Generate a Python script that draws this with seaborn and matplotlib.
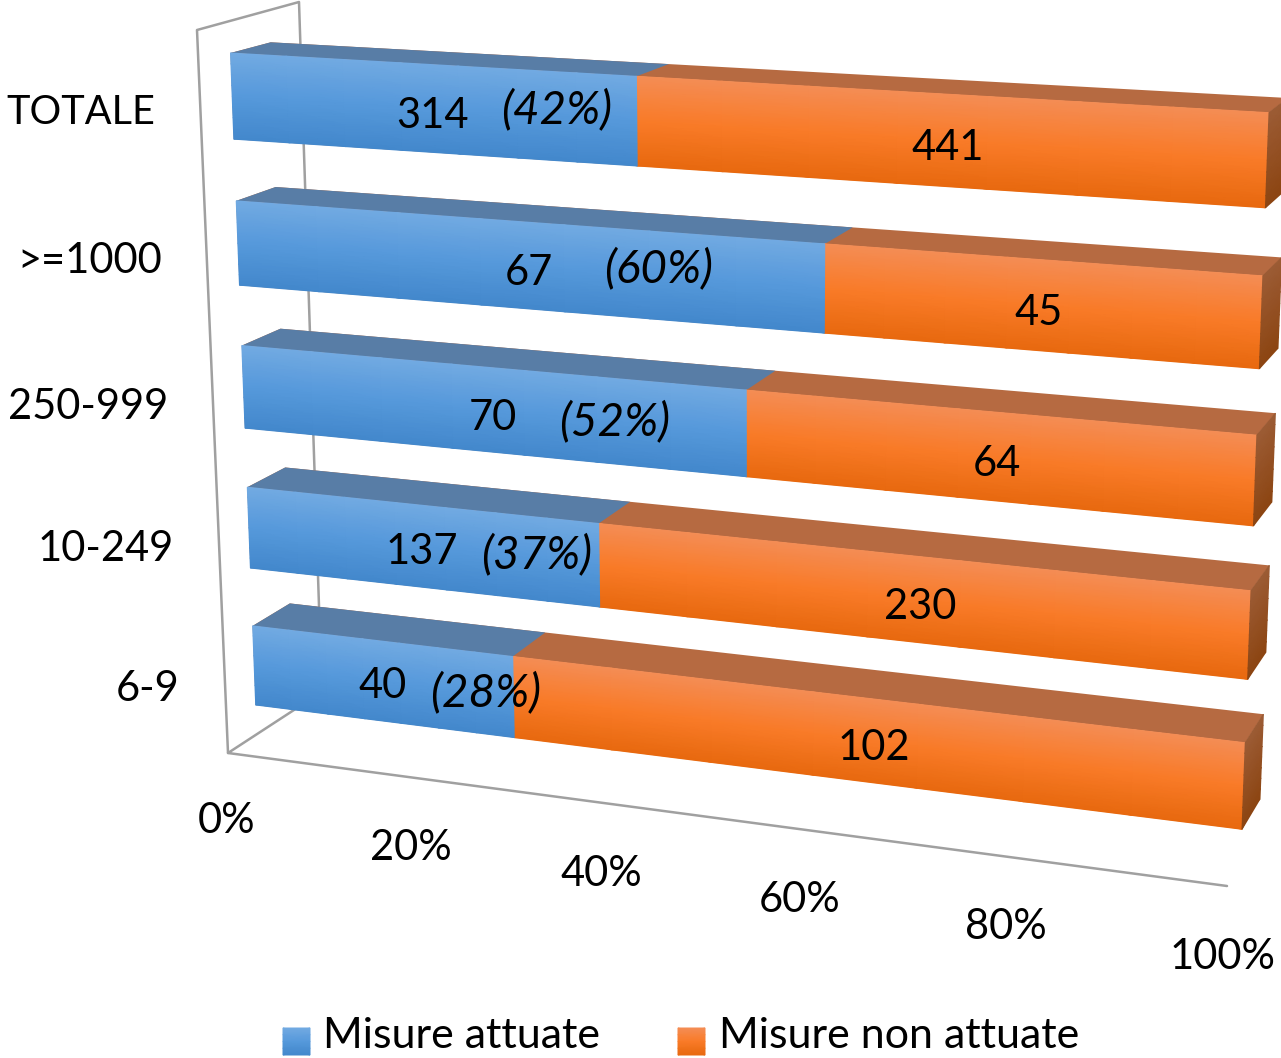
import numpy as np
import matplotlib
matplotlib.use('Agg')
import matplotlib.pyplot as plt
from matplotlib.colors import LinearSegmentedColormap
from matplotlib.transforms import Affine2D, Transform
import seaborn as sns

categories = ['TOTALE', '>=1000', '250-999', '10-249', '6-9']
attuate = [314, 67, 70, 137, 40]
non_attuate = [441, 45, 64, 230, 102]
percent_labels = ['(42%)', '(60%)', '(52%)', '(37%)', '(28%)']
x_ticks = ['0%', '20%', '40%', '60%', '80%', '100%']
legend_names = ['Misure attuate', 'Misure non attuate']

BAR_W = 0.58
H = BAR_W / 2
W, HT = 1281, 1058


def fit_homography(src, dst):
    a, b = [], []
    for (x, y), (u, v) in zip(src, dst):
        a.append([x, y, 1, 0, 0, 0, -u * x, -u * y])
        a.append([0, 0, 0, x, y, 1, -v * x, -v * y])
        b += [u, v]
    return np.append(np.linalg.solve(np.array(a, float), np.array(b, float)), 1).reshape(3, 3)


def project(m, xy):
    xy = np.asarray(xy, float)
    p = np.column_stack([xy, np.ones(len(xy))]) @ m.T
    return p[:, :2] / p[:, 2:]


class Plane(Transform):
    input_dims = output_dims = 2

    def __init__(self, m):
        super().__init__()
        self.m = m

    def transform_non_affine(self, values):
        return project(self.m, values)


class TopFace(Transform):
    # y inside a bar's band is used as depth: band top = back edge, band bottom = front edge
    input_dims = output_dims = 2

    def __init__(self, front, back):
        super().__init__()
        self.front, self.back = front, back

    def transform_non_affine(self, values):
        x, y = values[:, 0], values[:, 1]
        row = np.round(y)
        s = ((y - (row - H)) / (2 * H))[:, None]
        edge = np.column_stack([x, row - H])
        return project(self.back, edge) * (1 - s) + project(self.front, edge) * s


corners = [(0, -H), (100, -H), (0, 4 + H), (100, 4 + H)]
front_m = fit_homography(corners, [(230.5, 53), (1269, 112.7), (255.7, 705), (1242, 829.3)])
back_m = fit_homography(corners, [(270.7, 42.3), (1288, 98), (292.5, 681), (1260, 799)])

sns.set_theme(style='white')
plt.rcParams['font.family'] = ['Lato', 'DejaVu Sans']

fig = plt.figure(figsize=(W / 100, HT / 100), dpi=100)
bg = fig.add_axes([0, 0, 1, 1], zorder=0)
ax = fig.add_axes([0, 0, 1, 1], zorder=1)
over = fig.add_axes([0, 0, 1, 1], zorder=2)
for a in (bg, ax, over):
    a.axis('off')
px = Affine2D().scale(1, -1).translate(0, HT)

totals = np.array(attuate) + np.array(non_attuate)
shares = np.array(attuate) / totals * 100
full = [100] * len(categories)

# walls of the 3d box
wall = dict(color='#a0a0a0', lw=1.8, transform=px, solid_capstyle='round')
bg.plot([228, 197, 299, 319], [753, 30, 2, 606], **wall)
bg.plot([297, 228, 1227], [708, 753, 886], **wall)

# top faces
for vals, color in [(full, '#b66a41'), (shares, '#587da6')]:
    n = len(ax.patches)
    sns.barplot(x=vals, y=categories, orient='h', width=BAR_W, color=color, saturation=1, linewidth=0, ax=ax)
    for p in ax.patches[n:]:
        p.set_transform(TopFace(front_m, back_m) + px)

# front faces
for vals, color in [(full, '#f97b28'), (shares, '#5699db')]:
    n = len(ax.patches)
    sns.barplot(x=vals, y=categories, orient='h', width=BAR_W, color=color, saturation=1, linewidth=0, ax=ax)
    for p in ax.patches[n:]:
        p.set_transform(Plane(front_m) + px)
ax.axis('off')

blue_cm = LinearSegmentedColormap.from_list('b', ['#72aae2', '#5699db', '#4388cc'])
orange_cm = LinearSegmentedColormap.from_list('o', ['#f48d55', '#f97b28', '#e8690f'])
side_cm = LinearSegmentedColormap.from_list('s', ['#9c5c35', '#8c4512'])


def shade(points, cmap):
    # points shaped (rows, cols, 2), colour runs from top to bottom
    rows = points.shape[0]
    c = np.repeat(np.linspace(0, 1, rows)[:, None], points.shape[1], axis=1)
    over.pcolormesh(points[..., 0], points[..., 1], c, shading='gouraud', cmap=cmap,
                    vmin=0, vmax=1, transform=px)


for i in range(len(categories)):
    v = np.linspace(i - H, i + H, 9)
    for x0, x1, cmap in [(shares[i], 100, orange_cm), (0, shares[i], blue_cm)]:
        u = np.linspace(x0, x1, 8)
        uu, vv = np.meshgrid(u, v)
        pts = project(front_m, np.column_stack([uu.ravel(), vv.ravel()])).reshape(9, 8, 2)
        shade(pts, cmap)
    edge = np.column_stack([np.full(9, 100), v])
    f, b = project(front_m, edge), project(back_m, edge)
    shade(np.stack([f, b], axis=1), side_cm)

FS = 30
txt = dict(transform=px, ha='center', va='center', color='black', fontsize=FS)

for name, x, y, s in zip(categories, [81, 90, 88, 106, 148], [112, 261, 407, 549, 689], [28.5, 30, 30, 30, 30]):
    over.text(x, y, name, **{**txt, 'fontsize': s})
for name, x, y in zip(x_ticks, [227, 411, 601, 800, 1006, 1223], [821, 848, 874, 900, 927, 957]):
    over.text(x, y, name, **txt)

blue_xy = [(432, 116), (529, 273), (493, 418), (422, 552), (383, 686)]
pct_xy = [(557, 110), (659, 269), (615, 422), (537, 555), (486, 693)]
orange_xy = [(948, 148), (1039, 313), (997, 464), (920, 607), (874, 748)]
for i in range(len(categories)):
    over.text(*blue_xy[i], str(attuate[i]), **txt)
    over.text(*pct_xy[i], percent_labels[i], style='italic', **{**txt, 'fontsize': 33})
    over.text(*orange_xy[i], str(non_attuate[i]), **txt)

# legend
for name, sx, tx, cmap in zip(legend_names, [283, 678], [323, 719], [blue_cm, orange_cm]):
    yy = np.linspace(1028, 1055, 5)
    grid = np.stack([np.column_stack([np.full(5, sx), yy]), np.column_stack([np.full(5, sx + 27), yy])], axis=1)
    shade(grid, cmap)
    over.text(tx, 1036, name, transform=px, ha='left', va='center', color='black', fontsize=31)

fig.savefig('out.png', dpi=100)
